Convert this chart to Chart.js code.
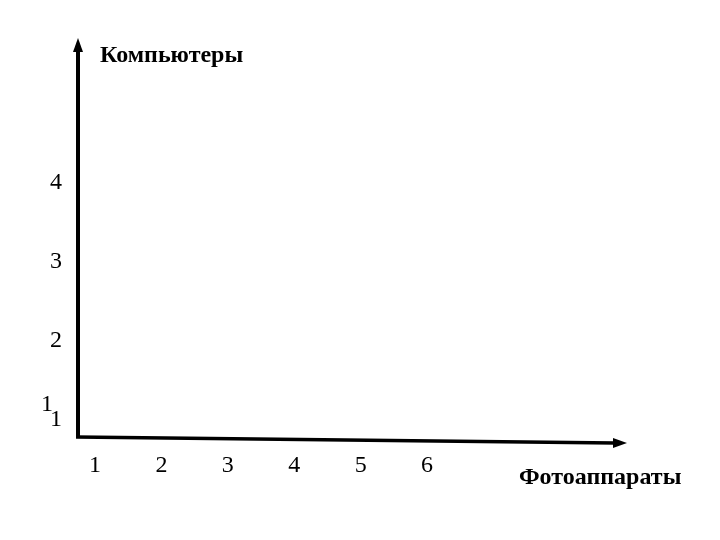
<!DOCTYPE html>
<html>
<head>
<meta charset="utf-8">
<script src="https://cdn.jsdelivr.net/npm/chart.js@4/dist/chart.umd.min.js"></script>
<style>
  html, body { margin: 0; padding: 0; background: #fff; }
  #wrap { width: 720px; height: 540px; }
</style>
</head>
<body>
<div id="wrap"><canvas id="grafica" width="720" height="540"></canvas></div>
<script>
// DATOS
const xTicks = [1, 2, 3, 4, 5, 6];
const yTicks = [1, 2, 3, 4];
const xTitle = "Фотоаппараты";
const yTitle = "Компьютеры";
const points = []; // empty coordinate plane

// EJES CON FLECHAS
const arrowAxes = {
    id: "arrowAxes",
    afterDraw(chart) {
        const ctx = chart.ctx;
        const a = chart.chartArea;
        ctx.save();
        ctx.strokeStyle = "#000";
        ctx.fillStyle = "#000";

        // vertical
        ctx.lineWidth = 4;
        ctx.beginPath();
        ctx.moveTo(a.left, a.bottom + 1);
        ctx.lineTo(a.left, a.top + 10);
        ctx.stroke();
        ctx.beginPath();
        ctx.moveTo(a.left, a.top - 2);
        ctx.lineTo(a.left - 5, a.top + 12);
        ctx.lineTo(a.left + 5, a.top + 12);
        ctx.closePath();
        ctx.fill();

        // horizontal
        ctx.lineWidth = 3.5;
        ctx.beginPath();
        ctx.moveTo(a.left - 2, a.bottom);
        ctx.lineTo(a.right - 10, a.bottom + 6);
        ctx.stroke();
        ctx.beginPath();
        ctx.moveTo(a.right + 2, a.bottom + 6);
        ctx.lineTo(a.right - 12, a.bottom + 1);
        ctx.lineTo(a.right - 12, a.bottom + 11);
        ctx.closePath();
        ctx.fill();

        // titulos
        ctx.font = "bold 24px 'Liberation Serif'";
        ctx.textBaseline = "middle";
        ctx.textAlign = "left";
        ctx.fillText(yTitle, a.left + 22, 56);
        ctx.fillText(xTitle, 519, 478);

        // extra "1" next to the y tick
        const y1 = chart.scales.y.getPixelForValue(1);
        ctx.font = "24px 'Liberation Serif'";
        ctx.textAlign = "right";
        ctx.fillText("1", 53, y1 - 15);
        ctx.restore();
    }
};

new Chart(document.getElementById("grafica"), {
    type: "scatter",
    data: {
        datasets: [{
            data: points,
            pointRadius: 0
        }]
    },
    options: {
        responsive: false,
        animation: false,
        layout: {
            padding: { top: 40, right: 95, bottom: 0, left: 0 }
        },
        plugins: {
            legend: { display: false },
            tooltip: { enabled: false }
        },
        scales: {
            x: {
                type: "linear",
                min: 0.744,
                max: 8.98,
                afterBuildTicks: s => { s.ticks = xTicks.map(v => ({ value: v })); },
                afterFit: s => { s.height = 103; },
                grid: { display: false, drawTicks: false },
                border: { display: false },
                ticks: {
                    color: "#000",
                    padding: 14,
                    font: { family: "'Liberation Serif'", size: 24 },
                    callback: v => String(v)
                }
            },
            y: {
                type: "linear",
                min: 0.785,
                max: 5.81,
                afterBuildTicks: s => { s.ticks = yTicks.map(v => ({ value: v })); },
                afterFit: s => { s.width = 78; },
                grid: { display: false, drawTicks: false },
                border: { display: false },
                ticks: {
                    color: "#000",
                    padding: 16,
                    font: { family: "'Liberation Serif'", size: 24 },
                    callback: v => String(v)
                }
            }
        }
    },
    plugins: [arrowAxes]
});
</script>
</body>
</html>
